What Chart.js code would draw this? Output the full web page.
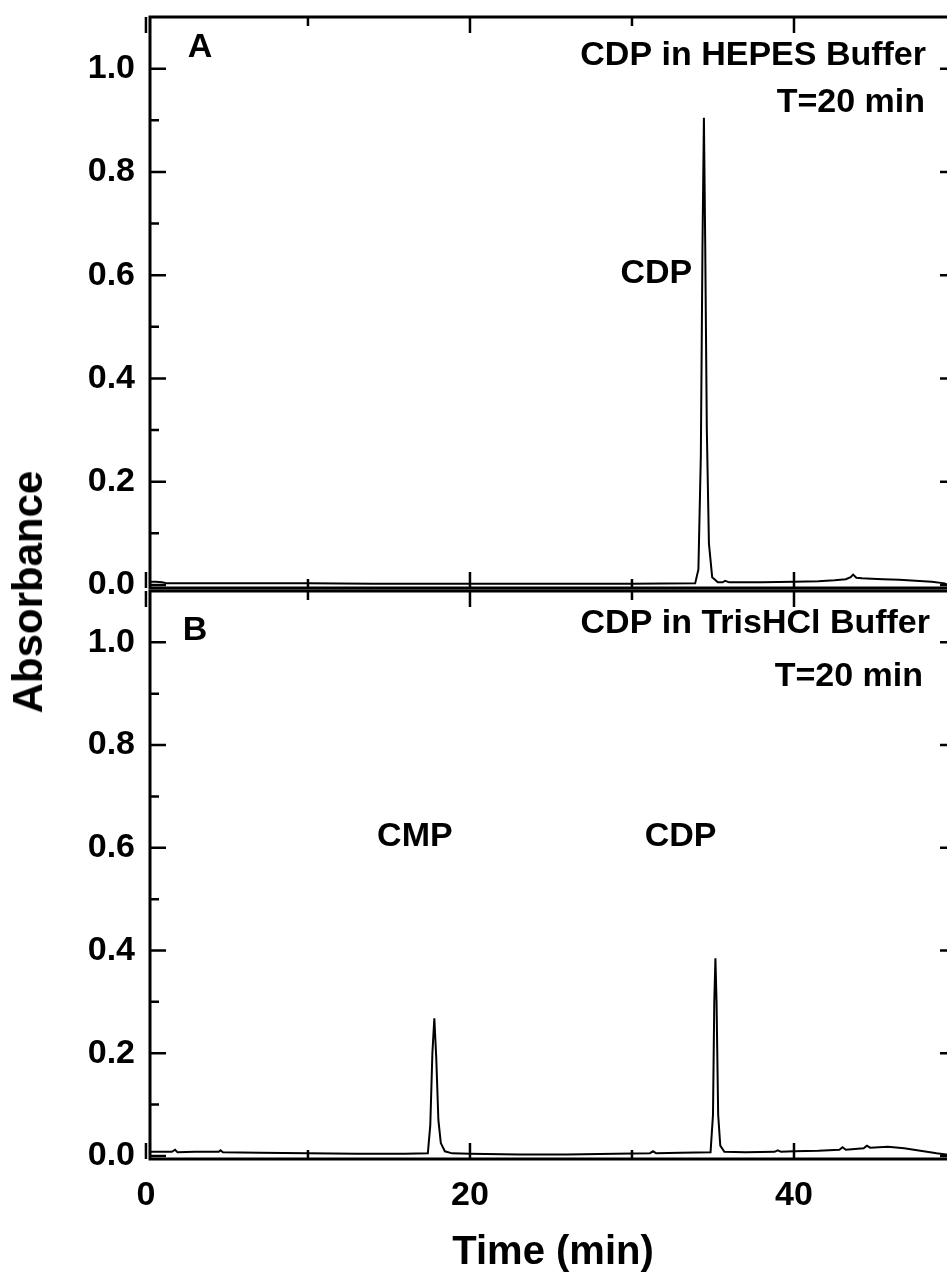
<!DOCTYPE html>
<html><head><meta charset="utf-8">
<script src="https://cdn.jsdelivr.net/npm/chart.js@4.4.1/dist/chart.umd.min.js"></script>
<style>
html,body{margin:0;padding:0;background:#fff;overflow:hidden;width:947px;height:1281px;}
#wrap{position:relative;width:947px;height:1281px;overflow:hidden;}
canvas{position:absolute;left:0;}
#ylab{position:absolute;left:28px;top:592px;transform:translate(-50%,-50%) rotate(-90deg);font:bold 42px 'Liberation Sans',Arial,sans-serif;white-space:nowrap;color:#000;}
</style></head>
<body><div id="wrap">
<canvas id="cA" width="960" height="600" style="top:0"></canvas>
<canvas id="cB" width="960" height="721" style="top:560px"></canvas>
<div id="ylab">Absorbance</div>
</div>
<script>
// ---- data ----
const timeA = [0.25,0.6,1.0,1.3,3,6,10,14,18,22,26,30,33.9,34.1,34.25,34.35,34.44,34.52,34.62,34.75,34.95,35.3,35.6,35.75,36,38,40,41.5,42.5,43.2,43.5,43.65,43.85,44.2,44.8,45.5,46.5,47.5,48.5,49.3,49.6,50];
const absA  = [0.006,0.006,0.005,0.003,0.003,0.003,0.003,0.002,0.002,0.002,0.002,0.002,0.003,0.03,0.25,0.65,0.905,0.66,0.3,0.08,0.015,0.005,0.005,0.008,0.005,0.005,0.006,0.007,0.009,0.011,0.015,0.02,0.014,0.013,0.012,0.011,0.01,0.008,0.006,0.003,-0.002,-0.002];
const timeB = [0.25,1.6,1.8,1.95,3,4.5,4.6,4.75,7,10,13,16,17.4,17.55,17.68,17.8,17.92,18.05,18.2,18.45,18.9,20,23,26,29,31.1,31.3,31.5,33,34.85,35.0,35.08,35.15,35.22,35.32,35.45,35.7,37,38.8,39,39.2,40,41.5,42.8,43,43.2,44.3,44.5,44.7,45.8,46.8,47.8,48.8,49.6,50];
const absB  = [0.008,0.008,0.012,0.007,0.008,0.008,0.011,0.007,0.006,0.005,0.004,0.004,0.005,0.06,0.2,0.268,0.19,0.07,0.025,0.009,0.005,0.004,0.003,0.003,0.004,0.005,0.009,0.005,0.006,0.007,0.08,0.3,0.385,0.3,0.08,0.02,0.008,0.007,0.008,0.011,0.008,0.009,0.01,0.012,0.017,0.012,0.015,0.02,0.016,0.018,0.015,0.01,0.005,0.002,0.002];

const yMajorTicks = [0,0.2,0.4,0.6,0.8,1.0];
const yMinorTicks = [0.1,0.3,0.5,0.7,0.9];
const xMajorTicks = [0,20,40];
const xMinorTicks = [10,30,50];

const labelsA = [
  {text:'A', dx:50, dy:40, align:'center'},
  {text:'CDP in HEPES Buffer', dx:-30, dy:48, align:'right'},
  {text:'T=20 min', dx:-31, dy:95, align:'right'},
  {text:'CDP', tx:31.5, ty:0.585, align:'center'}
];
const labelsB = [
  {text:'B', dx:45, dy:49, align:'center'},
  {text:'CDP in TrisHCl Buffer', dx:-26, dy:42, align:'right'},
  {text:'T=20 min', dx:-33, dy:95, align:'right'},
  {text:'CMP', tx:16.6, ty:0.604, align:'center'},
  {text:'CDP', tx:33.0, ty:0.604, align:'center'}
];
const panelLabels = { cA: labelsA, cB: labelsB };

const FONT = "'Liberation Sans', Arial, Helvetica, sans-serif";
Chart.defaults.font.family = FONT;
Chart.defaults.color = '#000';

const framePlugin = {
  id: 'frame',
  afterDraw(chart) {
    const {ctx, chartArea} = chart;
    const {left, right, top, bottom} = chartArea;
    const x = chart.scales.x, y = chart.scales.y;
    ctx.save();
    ctx.strokeStyle = '#000';
    ctx.lineWidth = 3;
    ctx.strokeRect(left, top, right - left, bottom - top);
    ctx.lineWidth = 2.5;
    const hTick = (v, len) => {
      const p = y.getPixelForValue(v);
      ctx.beginPath();
      ctx.moveTo(left, p); ctx.lineTo(left + len, p);
      ctx.moveTo(right, p); ctx.lineTo(right - len, p);
      ctx.stroke();
    };
    const vTick = (v, len) => {
      const p = x.getPixelForValue(v);
      ctx.beginPath();
      ctx.moveTo(p, bottom); ctx.lineTo(p, bottom - len);
      ctx.moveTo(p, top); ctx.lineTo(p, top + len);
      ctx.stroke();
    };
    yMajorTicks.forEach(v => hTick(v, 16));
    yMinorTicks.forEach(v => hTick(v, 9));
    xMajorTicks.forEach(v => vTick(v, 16));
    xMinorTicks.forEach(v => vTick(v, 9));
    ctx.fillStyle = '#000';
    ctx.font = 'bold 34px ' + FONT;
    ctx.textBaseline = 'alphabetic';
    const labels = panelLabels[chart.canvas.id] || [];
    labels.forEach(l => {
      ctx.textAlign = l.align;
      let px, py;
      if (l.tx !== undefined) { px = x.getPixelForValue(l.tx); py = y.getPixelForValue(l.ty); }
      else {
        px = l.dx >= 0 ? left + l.dx : right + l.dx;
        py = top + l.dy;
      }
      ctx.fillText(l.text, px, py);
    });
    ctx.restore();
  }
};

function zeroPad(s) { s.paddingTop = 0; s.paddingBottom = 0; s.paddingLeft = 0; s.paddingRight = 0; }

function makeChart(id, times, values, showX, padding) {
  const data = times.map((t, i) => ({x: t, y: values[i]}));
  return new Chart(document.getElementById(id), {
    type: 'line',
    data: { datasets: [{ data, borderColor: '#000', borderWidth: 2, pointRadius: 0, tension: 0, fill: false }] },
    options: {
      responsive: false,
      animation: false,
      devicePixelRatio: 1,
      layout: { padding },
      plugins: { legend: {display: false}, tooltip: {enabled: false} },
      scales: {
        x: {
          type: 'linear', min: 0.25, max: 50,
          display: showX,
          grid: { display: false, drawTicks: false },
          border: { display: false },
          afterBuildTicks: s => { s.ticks = xMajorTicks.map(v => ({value: v})); },
          afterFit: s => { s.height = showX ? 122 : 0; zeroPad(s); },
          ticks: { font: { size: 34, weight: 'bold' }, padding: 16, maxRotation: 0, callback: v => String(v) },
          title: { display: true, text: 'Time (min)', font: { size: 40, weight: 'bold' }, padding: { top: 0, bottom: 4 } }
        },
        y: {
          type: 'linear', min: -0.006, max: 1.1,
          grid: { display: false, drawTicks: false },
          border: { display: false },
          afterBuildTicks: s => { s.ticks = yMajorTicks.map(v => ({value: v})); },
          afterFit: s => { s.width = 150; zeroPad(s); },
          ticks: { font: { size: 34, weight: 'bold' }, padding: 15, callback: v => Number(v).toFixed(1) }
        }
      }
    },
    plugins: [framePlugin]
  });
}

makeChart('cA', timeA, absA, false, {top: 17, right: 4, bottom: 12, left: 0});
makeChart('cB', timeB, absB, true, {top: 31, right: 4, bottom: 0, left: 0});
</script>
</body></html>
